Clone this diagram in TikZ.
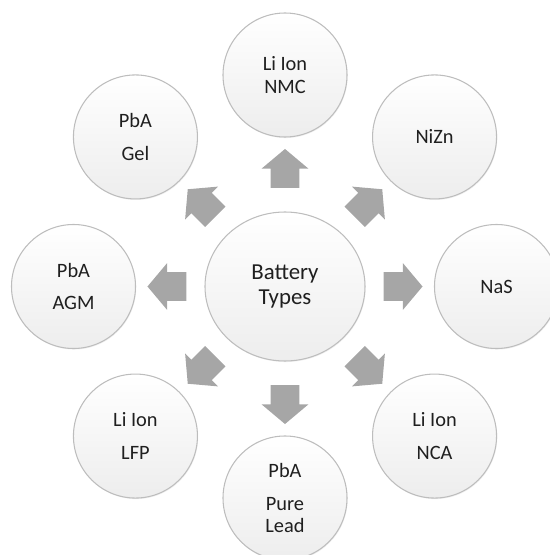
\documentclass[tikz,border=0pt]{standalone}
\usepackage{fontspec}
\setmainfont{Carlito}
\usetikzlibrary{shapes.geometric, shapes.arrows, calc, shadows}
\definecolor{rimgray}{HTML}{BDBDBD}
\definecolor{arrowgray}{HTML}{A6A6A6}
\definecolor{labelgray}{HTML}{1F1F1F}
\tikzset{
    bubble/.style={circle, draw=rimgray, line width=0.6pt, top color=white, bottom color=black!7, minimum size=2.48cm, inner sep=0pt, align=center, text=labelgray, font=\fontsize{11.6}{13}\selectfont, drop shadow={opacity=0.12, shadow xshift=0.4pt, shadow yshift=-0.6pt}},
    hub/.style={bubble, ellipse, minimum width=3.2cm, minimum height=2.98cm, font=\fontsize{13}{14.2}\selectfont},
    blockarrow/.style={single arrow, fill=arrowgray, draw=none, minimum height=0.78cm, inner xsep=0pt, inner ysep=0.28cm, single arrow head extend=0.18cm, single arrow tip angle=100}
}

\begin{document}
\begin{tikzpicture}
        \useasboundingbox (0,0) rectangle (11,11.1);
        \clip (0,0) rectangle (11,11.1);
        \node [hub] (bt) at (5.7,5.37) {Battery\\Types};
        \node [bubble] (nmc) at ($(bt)+(90:4.23)$) {Li Ion\\NMC};
        \node [bubble] (nizn) at ($(bt)+(45:4.23)$) {NiZn};
        \node [bubble] (nas) at ($(bt)+(0:4.23)$) {NaS};
        \node [bubble] (nca) at ($(bt)+(-45:4.23)$) {Li Ion\\[5.7pt]NCA};
        \node [bubble] (pure) at ($(bt)+(-90:4.23)$) {PbA\\[5.7pt]Pure\\Lead};
        \node [bubble] (lfp) at ($(bt)+(-135:4.23)$) {Li Ion\\[5.7pt]LFP};
        \node [bubble] (agm) at ($(bt)+(180:4.23)$) {PbA\\[5.7pt]AGM};
        \node [bubble] (gel) at ($(bt)+(135:4.23)$) {PbA\\[5.7pt]Gel};
        \foreach \a in {0,45,...,315}
            \node [blockarrow, rotate=\a] (arr\a) at ($(bt)+(\a:2.24)$) {};
    \end{tikzpicture}
\end{document}
